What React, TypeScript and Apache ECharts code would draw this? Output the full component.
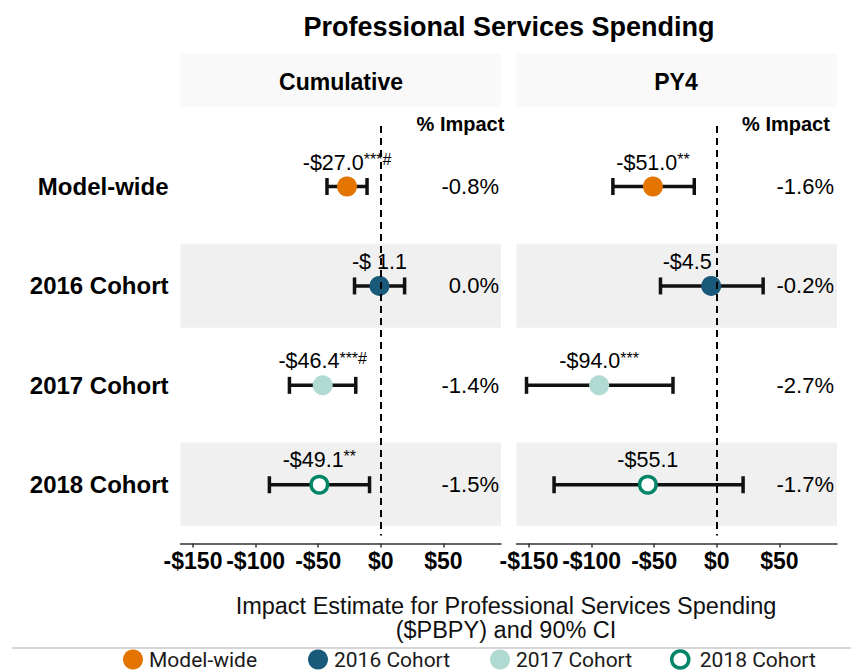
import React, { useEffect, useRef } from 'react';
import * as echarts from 'echarts';

const rows = ['Model-wide', '2016 Cohort', '2017 Cohort', '2018 Cohort'];
const panels = ['Cumulative', 'PY4'];

const cumEst = [-27.0, -1.1, -46.4, -49.1];
const cumLo = [-43, -21, -73, -89];
const cumHi = [-11, 19, -20, -9];
const cumLabel = ['-$27.0', '-$ 1.1', '-$46.4', '-$49.1'];
const cumSig = ['***#', '', '***#', '**'];
const cumPct = ['-0.8%', '0.0%', '-1.4%', '-1.5%'];

const py4Est = [-51.0, -4.5, -94.0, -55.1];
const py4Lo = [-83, -45, -152, -130];
const py4Hi = [-18, 37, -35, 21];
const py4Label = ['-$51.0', '-$4.5', '-$94.0', '-$55.1'];
const py4Sig = ['**', '', '***', ''];
const py4Pct = ['-1.6%', '-0.2%', '-2.7%', '-1.7%'];

const xTicks = [-150, -100, -50, 0, 50];
const rowTicks = [1, 2, 3, 4];

const COLORS = ['#E37400', '#195A7A', '#B1DAD3', '#008566'];
const FONT = "'Liberation Sans', Arial, sans-serif";
const LEGEND_FONT = "Roboto, 'Liberation Sans', sans-serif";

export default function App() {
  const ref = useRef<HTMLDivElement>(null);

  useEffect(() => {
    if (!ref.current) return;
    const chart = echarts.init(ref.current, undefined, { renderer: 'svg' });

    const panelData = [
      { est: cumEst, lo: cumLo, hi: cumHi, lab: cumLabel, sig: cumSig, pct: cumPct, pctX: 94.4 },
      { est: py4Est, lo: py4Lo, hi: py4Hi, lab: py4Label, sig: py4Sig, pct: py4Pct, pctX: 93.6 },
    ];
    const gridLefts = [180.5, 516.5];

    const grids = gridLefts.map((l) => ({ left: l, top: 107, width: 320.5, height: 436.4 }));

    const xAxes = gridLefts.map((_, g) => ({
      type: 'value',
      gridIndex: g,
      min: -160,
      max: 96,
      axisLine: { show: true, lineStyle: { color: '#333', width: 1.5 } },
      axisTick: { show: true, customValues: xTicks, length: 4, lineStyle: { color: '#333', width: 1.5 } },
      axisLabel: {
        customValues: xTicks,
        formatter: (v: number) => (v < 0 ? '-$' + Math.abs(v) : '$' + v),
        fontWeight: 'bold',
        fontSize: 23,
        color: '#000',
        margin: 6,
        fontFamily: FONT,
      },
      splitLine: { show: false },
    }));

    const yAxes = gridLefts.map((_, g) => ({
      type: 'value',
      gridIndex: g,
      inverse: true,
      min: 0.2,
      max: 4.59,
      axisLine: { show: false },
      axisTick: { show: false },
      splitLine: { show: false },
      axisLabel:
        g === 0
          ? {
              customValues: rowTicks,
              formatter: (v: number) => rows[Math.round(v) - 1] || '',
              fontWeight: 'bold',
              fontSize: 24,
              color: '#000',
              margin: 12,
              fontFamily: FONT,
            }
          : { show: false },
    }));

    const series: any[] = [];
    panelData.forEach((pd, p) => {
      series.push({
        type: 'custom',
        name: 'ci' + p,
        xAxisIndex: p,
        yAxisIndex: p,
        silent: true,
        z: 3,
        data: rows.map((_, i) => [pd.lo[i], i + 1, pd.hi[i]]),
        encode: { x: [0, 2], y: 1 },
        renderItem: (params: any, api: any) => {
          const a = api.coord([api.value(0), api.value(1)]);
          const b = api.coord([api.value(2), api.value(1)]);
          const h = 8.5;
          const st = { stroke: '#111', lineWidth: 3.5 };
          return {
            type: 'group',
            children: [
              { type: 'line', shape: { x1: a[0], y1: a[1], x2: b[0], y2: b[1] }, style: st },
              { type: 'line', shape: { x1: a[0], y1: a[1] - h, x2: a[0], y2: a[1] + h }, style: st },
              { type: 'line', shape: { x1: b[0], y1: b[1] - h, x2: b[0], y2: b[1] + h }, style: st },
            ],
          };
        },
        markArea: {
          silent: true,
          itemStyle: { color: '#F0F0F0' },
          data: [
            [{ yAxis: 1.575 }, { yAxis: 2.42 }],
            [{ yAxis: 3.575 }, { yAxis: 4.415 }],
          ],
        },
        markLine: {
          silent: true,
          z: 10,
          symbol: ['none', 'none'],
          label: { show: false },
          lineStyle: { type: [7, 5], color: '#000', width: 2 },
          data: [[{ coord: [0, 0.39] }, { coord: [0, 4.51] }]],
        },
      });

      rows.forEach((name, i) => {
        const hollow = i === 3;
        const item: any = { value: [pd.est[i], i + 1] };
        if (p === 1 && i === 1) item.label = { offset: [-24, 0] };
        series.push({
          type: 'scatter',
          name,
          xAxisIndex: p,
          yAxisIndex: p,
          z: 5,
          symbol: 'circle',
          symbolSize: hollow ? 16.5 : 20,
          itemStyle: hollow
            ? { color: '#fff', borderColor: COLORS[i], borderWidth: 3.5, opacity: 1 }
            : { color: COLORS[i], opacity: 1 },
          label: {
            show: true,
            position: 'top',
            distance: hollow ? 4 : 3,
            formatter: () => `{v|${pd.lab[i]}}` + (pd.sig[i] ? `{s|${pd.sig[i]}}` : ''),
            rich: {
              v: { fontSize: 21.5, color: '#000', fontFamily: FONT },
              s: { fontSize: 16, color: '#000', fontFamily: FONT, verticalAlign: 'top' },
            },
          },
          data: [item],
        });
      });

      series.push({
        type: 'custom',
        name: 'pct' + p,
        xAxisIndex: p,
        yAxisIndex: p,
        silent: true,
        z: 6,
        data: rows.map((_, i) => [pd.pctX, i + 1, pd.pct[i]]),
        encode: { x: 0, y: 1 },
        renderItem: (params: any, api: any) => {
          const c = api.coord([api.value(0), api.value(1)]);
          return {
            type: 'text',
            x: c[0],
            y: c[1],
            style: {
              text: pd.pct[params.dataIndex],
              font: `22px ${FONT}`,
              fill: '#000',
              align: 'right',
              verticalAlign: 'middle',
            },
          };
        },
      });
    });

    const legendLefts = [123, 308, 490, 670];
    const legends = rows.map((name, i) => ({
      show: true,
      selectedMode: false,
      left: legendLefts[i],
      top: 649,
      padding: 0,
      itemWidth: i === 3 ? 17 : 20,
      itemHeight: i === 3 ? 17 : 20,
      textStyle: {
        fontSize: 21,
        lineHeight: 20,
        color: '#1a1a1a',
        fontFamily: LEGEND_FONT,
        padding: [0, 0, 0, i === 3 ? 6 : 1],
      },
      data: [
        i === 3
          ? { name, icon: 'circle', itemStyle: { color: '#fff', borderColor: COLORS[i], borderWidth: 3.5 } }
          : { name, icon: 'circle', itemStyle: { color: COLORS[i] } },
      ],
    }));

    const option: any = {
      animation: false,
      backgroundColor: '#fff',
      grid: grids,
      xAxis: xAxes,
      yAxis: yAxes,
      series,
      legend: legends,
      graphic: [
        { type: 'rect', shape: { x: 180.5, y: 54, width: 320.5, height: 53 }, style: { fill: '#F9F9F9' }, z: -1, silent: true },
        { type: 'rect', shape: { x: 516.5, y: 54, width: 320.5, height: 53 }, style: { fill: '#F9F9F9' }, z: -1, silent: true },
        {
          type: 'text', x: 509, y: 27,
          style: { text: 'Professional Services Spending', font: `bold 27px ${FONT}`, fill: '#000', align: 'center', verticalAlign: 'middle' },
        },
        {
          type: 'text', x: 341, y: 82,
          style: { text: panels[0], font: `bold 23px ${FONT}`, fill: '#000', align: 'center', verticalAlign: 'middle' },
        },
        {
          type: 'text', x: 676, y: 82,
          style: { text: panels[1], font: `bold 23px ${FONT}`, fill: '#000', align: 'center', verticalAlign: 'middle' },
        },
        {
          type: 'text', x: 460.5, y: 124,
          style: { text: '% Impact', font: `bold 20px ${FONT}`, fill: '#000', align: 'center', verticalAlign: 'middle' },
        },
        {
          type: 'text', x: 786, y: 124,
          style: { text: '% Impact', font: `bold 20px ${FONT}`, fill: '#000', align: 'center', verticalAlign: 'middle' },
        },
        {
          type: 'text', x: 506, y: 618,
          style: {
            text: 'Impact Estimate for Professional Services Spending\n($PBPY) and 90% CI',
            font: `23.5px ${FONT}`, lineHeight: 24, fill: '#111', align: 'center', verticalAlign: 'middle',
          },
        },
        { type: 'line', shape: { x1: 12, y1: 648, x2: 851, y2: 648 }, style: { stroke: '#C8C8C8', lineWidth: 1.5 }, silent: true },
      ],
    };

    chart.setOption(option);
    return () => chart.dispose();
  }, []);

  return <div ref={ref} style={{ position: 'fixed', left: 0, top: 0, width: 851, height: 670 }} />;
}
